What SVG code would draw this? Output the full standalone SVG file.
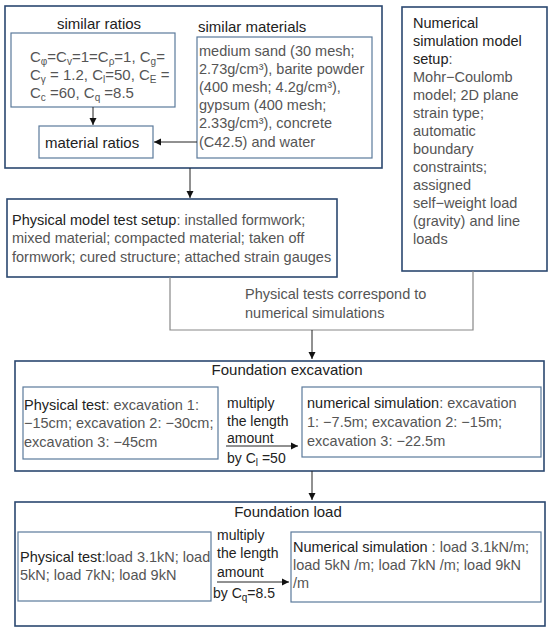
<svg xmlns="http://www.w3.org/2000/svg" width="550" height="635" viewBox="0 0 550 635">
<style>
text{font-family:"Liberation Sans",Arial,sans-serif;font-size:14.5px;fill:#555}
.d{fill:#222}
.t{font-size:15px}
.m{font-size:14px}
.outer{fill:#fff;stroke:#2b4870;stroke-width:1.6}
.inner{fill:#fff;stroke:#5b7a9b;stroke-width:1.2}
.ln{fill:none;stroke:#888;stroke-width:1.2}
.ar{fill:none;stroke:#222;stroke-width:1}
.sb{font-size:10px}
</style>
<defs>
<marker id="ah" markerWidth="8" markerHeight="8" refX="7" refY="4" orient="auto" markerUnits="userSpaceOnUse">
<path d="M0,0.5 L7,4 L0,7.5 Z" fill="#111"/>
</marker>
</defs>
<rect width="550" height="635" fill="#fff"/>

<g id="similar-group">
<rect class="outer" x="5" y="6" width="377" height="162"/>
</g>

<g id="similar-ratios">
<text class="d t" x="99" y="29" text-anchor="middle">similar ratios</text>
<rect class="inner" x="11" y="33" width="164" height="74"/>
<text class="t" x="30" y="62">C<tspan class="sb" dy="3">φ</tspan><tspan dy="-3">=C</tspan><tspan class="sb" dy="3">v</tspan><tspan dy="-3">=1=C</tspan><tspan class="sb" dy="3">ρ</tspan><tspan dy="-3">=1, C</tspan><tspan class="sb" dy="3">g</tspan><tspan dy="-3">=</tspan></text>
<text class="t" x="30" y="80">C<tspan class="sb" dy="3">γ</tspan><tspan dy="-3"> = 1.2, C</tspan><tspan class="sb" dy="3">l</tspan><tspan dy="-3">=50, C</tspan><tspan class="sb" dy="3">E</tspan><tspan dy="-3"> =</tspan></text>
<text class="t" x="30" y="98">C<tspan class="sb" dy="3">c</tspan><tspan dy="-3"> =60, C</tspan><tspan class="sb" dy="3">q</tspan><tspan dy="-3"> =8.5</tspan></text>
</g>

<g id="material-ratios">
<rect class="inner" x="39" y="126" width="114" height="32"/>
<text class="d t" x="45" y="148">material ratios</text>
</g>

<g id="similar-materials">
<text class="d t" x="198" y="32">similar materials</text>
<rect class="inner" x="197" y="37" width="175" height="121"/>
<text x="199" y="56">medium sand (30 mesh;</text>
<text x="199" y="74">2.73g/cm³), barite powder</text>
<text x="199" y="92">(400 mesh; 4.2g/cm³),</text>
<text x="199" y="110">gypsum (400 mesh;</text>
<text x="199" y="128">2.33g/cm³), concrete</text>
<text x="199" y="147">(C42.5) and water</text>
</g>

<g id="numerical-setup">
<rect class="outer" x="402" y="7" width="145" height="264"/>
<text class="d" x="413" y="28">Numerical</text>
<text class="d" x="413" y="46">simulation model</text>
<text class="d" x="413" y="64">setup<tspan fill="#555">:</tspan></text>
<text x="413" y="82">Mohr−Coulomb</text>
<text x="413" y="100">model; 2D plane</text>
<text x="413" y="118">strain type;</text>
<text x="413" y="136">automatic</text>
<text x="413" y="154">boundary</text>
<text x="413" y="172">constraints;</text>
<text x="413" y="190">assigned</text>
<text x="413" y="208">self−weight load</text>
<text x="413" y="226">(gravity) and line</text>
<text x="413" y="244">loads</text>
</g>

<g id="physical-setup">
<rect class="outer" x="7" y="199" width="330" height="78"/>
<text x="12" y="225"><tspan class="d">Physical model test setup</tspan>: installed formwork;</text>
<text x="12" y="243">mixed material; compacted material; taken off</text>
<text x="12" y="262">formwork; cured structure; attached strain gauges</text>
</g>

<g id="correspond-label">
<text x="245" y="299">Physical tests correspond to</text>
<text x="245" y="318">numerical simulations</text>
</g>

<g id="foundation-excavation">
<rect class="outer" x="15" y="361" width="529" height="110"/>
<text class="d t" x="287" y="375" text-anchor="middle">Foundation excavation</text>
<rect class="inner" x="23" y="387" width="195" height="72"/>
<text x="24" y="410"><tspan class="d">Physical test</tspan>: excavation 1:</text>
<text x="24" y="428">−15cm; excavation 2: −30cm;</text>
<text x="24" y="447">excavation 3: −45cm</text>
<text class="d m" x="227" y="408">multiply</text>
<text class="d m" x="227" y="426">the length</text>
<text class="d m" x="227" y="443">amount</text>
<text class="d m" x="227" y="463">by C<tspan class="sb" dy="3">l</tspan><tspan dy="-3"> =50</tspan></text>
<rect class="inner" x="302" y="387" width="239" height="70"/>
<text x="307" y="408"><tspan class="d">numerical simulation</tspan>: excavation</text>
<text x="307" y="427">1: −7.5m; excavation 2: −15m;</text>
<text x="307" y="446">excavation 3: −22.5m</text>
</g>

<g id="foundation-load">
<rect class="outer" x="15" y="502" width="530" height="124"/>
<text class="d t" x="288" y="517" text-anchor="middle">Foundation load</text>
<rect class="inner" x="18" y="532" width="193" height="69"/>
<text x="20" y="562"><tspan class="d">Physical test</tspan>:load 3.1kN; load</text>
<text x="20" y="580">5kN; load 7kN; load 9kN</text>
<text class="d m" x="217" y="540">multiply</text>
<text class="d m" x="217" y="558">the length</text>
<text class="d m" x="217" y="577">amount</text>
<text class="d m" x="213" y="598">by C<tspan class="sb" dy="3">q</tspan><tspan dy="-3">=8.5</tspan></text>
<rect class="inner" x="291" y="532" width="250" height="70"/>
<text x="293" y="552"><tspan class="d">Numerical simulation</tspan> : load 3.1kN/m;</text>
<text x="293" y="570">load 5kN /m; load 7kN /m; load 9kN</text>
<text x="293" y="588">/m</text>
</g>

<g id="connectors">
<line class="ar" x1="93" y1="107" x2="93" y2="125" marker-end="url(#ah)"/>
<line class="ar" x1="197" y1="142" x2="154" y2="142" marker-end="url(#ah)"/>
<line class="ar" x1="190" y1="168" x2="190" y2="198" marker-end="url(#ah)"/>
<polyline class="ln" points="170,277 170,330 473,330 473,271"/>
<line class="ar" x1="312" y1="330" x2="312" y2="359" marker-end="url(#ah)"/>
<line class="ar" x1="312" y1="471" x2="312" y2="500" marker-end="url(#ah)"/>
<line class="ar" x1="226" y1="446" x2="298" y2="446" marker-end="url(#ah)"/>
<line class="ar" x1="217" y1="582" x2="289" y2="582" marker-end="url(#ah)"/>
</g>
</svg>
